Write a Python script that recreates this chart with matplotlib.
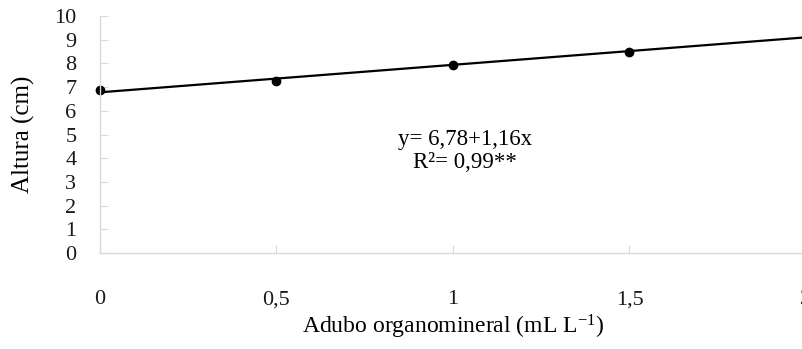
import matplotlib
matplotlib.use('Agg')
import matplotlib.pyplot as plt
import numpy as np

# data
doses = [0, 0.5, 1, 1.5, 2]
altura = [6.88, 7.27, 7.93, 8.47, 9.10]
intercept, slope = 6.78, 1.16
x_ticks = [0, 0.5, 1, 1.5, 2]
x_tick_labels = ['0', '0,5', '1', '1,5', '2']
y_ticks = list(range(0, 11))

plt.rcParams['font.family'] = ['Liberation Serif', 'DejaVu Serif']
plt.rcParams['mathtext.fontset'] = 'custom'
plt.rcParams['mathtext.rm'] = 'Liberation Serif'
plt.rcParams['mathtext.it'] = 'Liberation Serif:italic'

fig = plt.figure(figsize=(8.03, 3.49), dpi=100)
ax = fig.add_axes([100 / 803, 96 / 349, 706 / 803, 237 / 349])

x_fit = np.array([doses[0], doses[-1]])
ax.plot(x_fit, intercept + slope * x_fit, color='black', lw=1.6)
ax.plot(doses, altura, 'o', color='black', ms=6, clip_on=False)

ax.set_xlim(0, 2)
ax.set_ylim(0, 10)
ax.set_xticks(x_ticks)
ax.set_xticklabels(x_tick_labels)
ax.set_yticks(y_ticks)

for s in ['top', 'right']:
    ax.spines[s].set_visible(False)
for s in ['left', 'bottom']:
    ax.spines[s].set_color('#d9d9d9')
    ax.spines[s].set_linewidth(1.0)

ax.tick_params(axis='both', direction='in', length=6, color='#d9d9d9', labelsize=16, labelcolor='#1a1a1a')
ax.tick_params(axis='x', pad=27)
ax.tick_params(axis='y', pad=17)

ax.set_ylabel('Altura (cm)', fontsize=18)
ax.yaxis.label.set_va('center')
ax.yaxis.set_label_coords(-0.109, 0.5)
ax.set_xlabel(r'Adubo organomineral (mL L$^{\mathrm{-1}}$)', fontsize=17)
ax.xaxis.label.set_va('center')
ax.xaxis.set_label_coords(0.5, (253 - 327) / 237)

ax.text(1.034, 4.3, 'y= 6,78+1,16x\nR²= 0,99**', ha='center', va='center',
        fontsize=16.5, linespacing=1.1)

fig.savefig('out.png', dpi=100)
